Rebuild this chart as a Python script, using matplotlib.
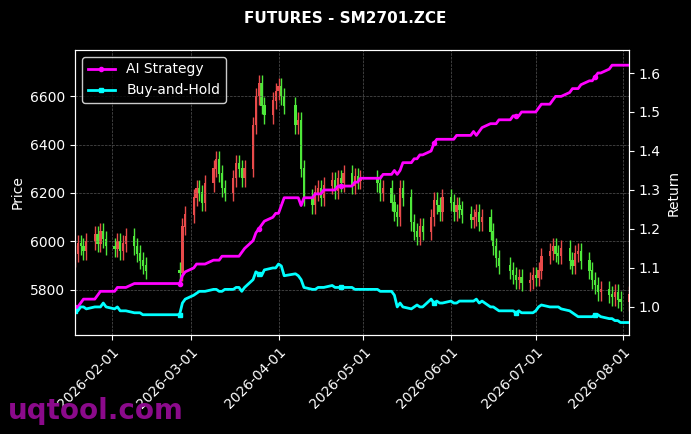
import matplotlib
matplotlib.use("Agg")
import matplotlib.pyplot as plt
import matplotlib.dates as mdates
import pandas as pd
import numpy as np

holidays = ["2026-02-16","2026-02-17","2026-02-18","2026-02-19","2026-02-20","2026-02-23","2026-02-24",
            "2026-04-06","2026-05-01","2026-05-04","2026-05-05","2026-06-19"]
dates = pd.bdate_range("2026-01-19", "2026-08-03").drop(pd.to_datetime(holidays))

close = [5950,5990,5980,5960,6000,6030,5990,6040,6010,5980,
         5970,6000,5960,5990,6020,5980,5950,5920,5900,5880,
         5870,6060,6110,
         6180,6220,6200,6160,6240, 6300,6340,6280,6220,6200, 6260,6320,6300,6260,6300,
         6480,6600,6650,6560,6520, 6580,6620,
         6640,6600,6560, 6480,6500,6300,6180, 6150,6200,6220,6180,6230, 6250,6210,6260,6240,6280,
         6230,6270,6250,6260,
         6240,6200,6220, 6160,6120,6100,6220,6180, 6080,6040,6020,6060,6040, 6100,6170,6150,6120,6180,
         6160,6120,6150,6130,6110, 6090,6100,6120,6080,6100, 6040,5980,5930,5900,
         5880,5860,5840,5850,5830, 5840,5860,
         5850,5880,5940, 5960,5980,5950,5940,5970, 5920,5900,5950,5960,5920, 5880,5840,5820,5790,5800,
         5780,5770,5790,5760,5750,
         5780]
first_open = 5930

strategy = [1.00,1.00,1.01,1.02,1.02,1.02,1.03,1.04,1.04,1.04,
            1.04,1.05,1.05,1.05,1.05,1.06,1.06,1.06,1.06,1.06,
            1.06,1.08,1.09,
            1.10,1.11,1.11,1.11,1.11, 1.12,1.12,1.12,1.13,1.13, 1.13,1.13,1.13,1.14,1.15,
            1.17,1.19,1.20,1.21,1.22, 1.23,1.24,
            1.24,1.26,1.28, 1.28,1.28,1.26,1.28, 1.28,1.29,1.29,1.29,1.30, 1.30,1.30,1.31,1.31,1.31,
            1.31,1.32,1.32,1.33,
            1.33,1.33,1.34, 1.34,1.35,1.34,1.35,1.37, 1.37,1.38,1.38,1.39,1.39, 1.40,1.42,1.43,1.43,1.43,
            1.43,1.43,1.44,1.44,1.44, 1.44,1.45,1.44,1.45,1.46, 1.47,1.47,1.47,1.48,
            1.48,1.49,1.49,1.49,1.50, 1.50,1.50,
            1.50,1.51,1.52, 1.52,1.53,1.54,1.54,1.54, 1.55,1.56,1.56,1.56,1.57, 1.58,1.58,1.59,1.60,1.60,
            1.61,1.62,1.62,1.62,1.62,
            1.62]

buyhold = [0.99,0.99,1.00,1.00,0.995,1.00,1.00,1.00,1.01,1.00,
           0.995,1.00,0.99,0.99,0.99,0.985,0.985,0.985,0.98,0.98,
           0.98,1.01,1.02,
           1.03,1.035,1.04,1.04,1.04, 1.045,1.045,1.04,1.04,1.045, 1.045,1.05,1.05,1.04,1.05,
           1.07,1.09,1.085,1.08,1.095, 1.10,1.10,
           1.11,1.105,1.08, 1.085,1.08,1.07,1.05, 1.045,1.045,1.05,1.05,1.05, 1.055,1.05,1.05,1.05,1.05,
           1.05,1.045,1.045,1.045,
           1.045,1.04,1.04, 1.04,1.03,1.00,1.01,1.00, 0.995,1.00,1.005,1.00,1.00, 1.02,1.01,1.015,1.01,1.01,
           1.015,1.01,1.01,1.015,1.015, 1.015,1.015,1.02,1.01,1.015, 1.00,1.00,0.995,0.99,
           0.99,0.99,0.985,0.99,0.985, 0.985,0.985,
           0.99,1.00,1.005, 1.00,1.00,1.00,1.00,0.995, 0.99,0.985,0.98,0.975,0.975, 0.975,0.975,0.98,0.98,0.975,
           0.97,0.97,0.965,0.965,0.96,
           0.96]

close = np.array(close, float)
opens = np.concatenate([[first_open], close[:-1]])
hi = np.maximum(opens, close) + 35
lo = np.minimum(opens, close) - 35

fig = plt.figure(figsize=(6.91, 4.34), dpi=100, facecolor="black")
ax = fig.add_axes([75/691, 1-335/434, 554/691, 285/434], facecolor="black")
x = mdates.date2num(dates)
up = close >= opens
cols = np.where(up, "#e84a4a", "#4ee83a")
ax.vlines(x, lo, hi, colors=cols, linewidth=1.0)
ax.bar(x, np.abs(close-opens)+2, bottom=np.minimum(opens, close), width=0.8, color=cols)
ax.set_ylim(5614, 6790)
ax.set_xlim(mdates.date2num(pd.Timestamp("2026-01-19")), mdates.date2num(pd.Timestamp("2026-08-03")))
ax.set_ylabel("Price", color="white")
ax.grid(True, color="#555555", linestyle="--", linewidth=0.5)
ax.xaxis.set_major_locator(mdates.MonthLocator())
ax.xaxis.set_major_formatter(mdates.DateFormatter("%Y-%m-%d"))
plt.setp(ax.get_xticklabels(), rotation=45, ha="right", rotation_mode="anchor")

ax2 = ax.twinx()
ax2.plot(dates, strategy, color="#ff00ff", linewidth=2, marker="o", markersize=3, markevery=20, label="AI Strategy")
ax2.plot(dates, buyhold, color="#00ffff", linewidth=2, marker="s", markersize=3, markevery=20, label="Buy-and-Hold")
ax2.set_ylim(0.928, 1.659)
ax2.set_ylabel("Return", color="white")

for a in (ax, ax2):
    a.tick_params(colors="white", labelsize=10)
    for s in a.spines.values():
        s.set_color("white")

leg = ax2.legend(loc="upper left", facecolor="black", edgecolor="white", labelcolor="white", fontsize=10)
fig.suptitle("FUTURES - SM2701.ZCE", color="white", fontweight="bold", fontsize=11, y=0.975)
fig.text(0.012, 0.035, "uqtool.com", color="#8b0a8b", fontsize=20, fontweight="bold")
fig.savefig("out.png", dpi=100, facecolor="black")
